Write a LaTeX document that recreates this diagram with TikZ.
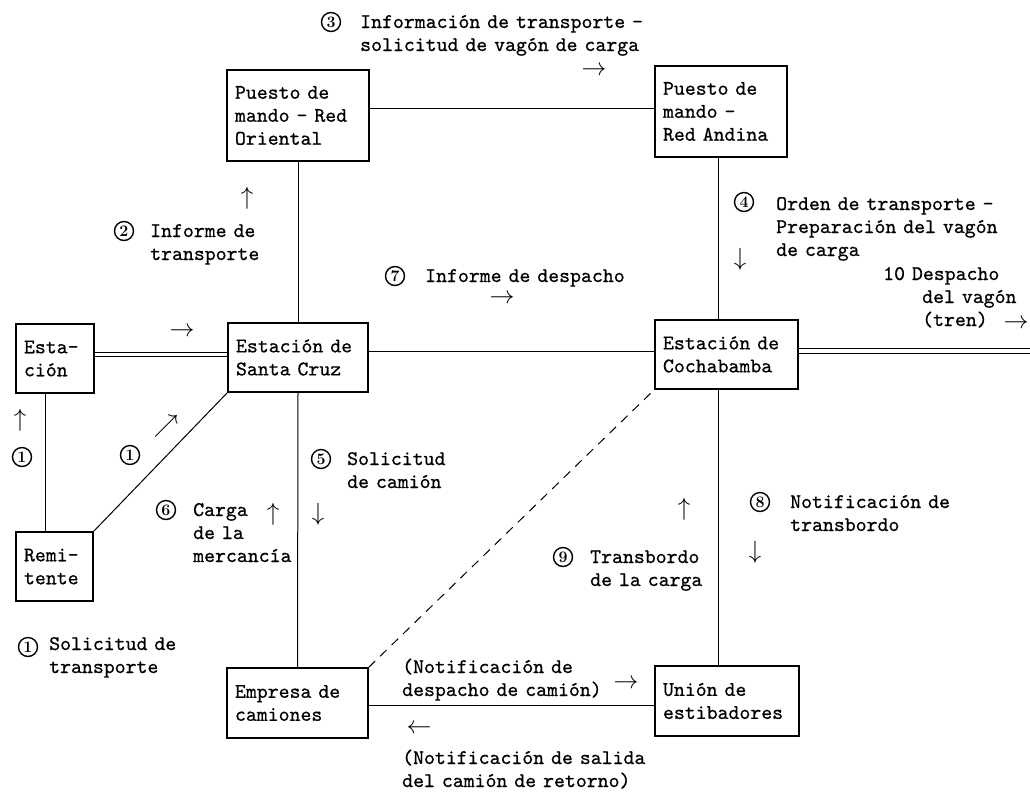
\documentclass[tikz,border=0pt]{standalone}
\usepackage{fontspec}
\newfontfamily\twfont{lmmono10-regular.otf}[FakeBold=0.6]
\newcommand{\tw}{\fontsize{20.8}{23}\selectfont\twfont}

\tikzset{
  box/.style={draw, line width=1.3pt, align=left, inner xsep=8pt, inner ysep=0pt, font=\tw},
  lbl/.style={anchor=base west, inner sep=0pt, align=left, text width=330pt, font=\tw},
  num/.style={circle, draw, line width=1.4pt, minimum size=19pt, inner sep=0pt, font=\fontsize{16}{16}\selectfont\bfseries},
  arr/.style={inner sep=0pt, font=\Huge},
  link/.style={line width=1pt},
  rail/.style={double, double distance=3.5pt, line width=0.8pt},
}

\begin{document}
\begin{tikzpicture}[x=1pt,y=-1pt]
\useasboundingbox (0,0) rectangle (1030,793);

% boxes
\node[box, text width=126pt, minimum height=91pt] (ori) at (298,115.5) {Puesto de\\mando - Red\\Oriental};
\node[box, text width=116pt, minimum height=91pt] (and) at (721,111.5) {Puesto de\\mando -\\Red Andina};
\node[box, text width=62pt, minimum height=69pt] (est) at (55,358.5) {Esta-\\ción};
\node[box, text width=124pt, minimum height=69pt] (scz) at (298,357.5) {Estación de\\Santa Cruz};
\node[box, text width=127pt, minimum height=69pt] (coc) at (726.5,354.5) {Estación de\\Cochabamba};
\node[box, text width=61pt, minimum height=69pt] (rem) at (54.5,566.5) {Remi-\\tente};
\node[box, text width=125pt, minimum height=70pt] (emp) at (297.5,703) {Empresa de\\camiones};
\node[box, text width=128pt, minimum height=70pt] (uni) at (727,701) {Unión de\\estibadores};
\coordinate (out) at (1030,351);

% connections
\draw[link] ([yshift=7.5pt]ori.east) -- ([yshift=7.5pt]ori.east -| and.west);
\draw[link] (ori.south) -- (scz.north);
\draw[link] ([xshift=-3pt]and.south) -- ([xshift=-3pt]and.south |- coc.north);
\draw[rail] ([yshift=4pt]est.east) -- ([yshift=4pt]est.east -| scz.west);
\draw[link] ([yshift=6pt]scz.east) -- ([yshift=6pt]scz.east -| coc.west);
\draw[rail] (coc.east |- out) -- (out);
\draw[link] ([xshift=-10pt]est.south) -- ([xshift=-10pt]est.south |- rem.north);
\draw[link] (rem.north east) -- (scz.south west);
\draw[link] (scz.south) -- (emp.north);
\draw[link] ([xshift=-3pt]and.south |- coc.south) -- ([xshift=-3pt]and.south |- uni.north);
\draw[link, dash pattern=on 9pt off 7pt] (emp.north east) -- (coc.south west);
\draw[link] ([yshift=-2pt]emp.east) -- ([yshift=-2pt]emp.east -| uni.west);

% numbers
\node[num] (n1a) at (22,457) {1};
\node[num] (n1b) at (130,455) {1};
\node[num] (n1c) at (28,647) {1};
\node[num] (n2) at (124,231) {2};
\node[num] (n3) at (331,22) {3};
\node[num] (n4) at (744,202) {4};
\node[num] (n5) at (321,459) {5};
\node[num] (n6) at (166,510) {6};
\node[num] (n7) at (395,276) {7};
\node[num] (n8) at (760,502) {8};
\node[num] (n9) at (563,557) {9};

% texts
\node[lbl] (t3) at (360,28) {Información de transporte -\\solicitud de vagón de carga};
\node[lbl] (t2) at (150,237) {Informe de\\transporte};
\node[lbl] (t7) at (425,282) {Informe de despacho};
\node[lbl] (t4) at (776,210) {Orden de transporte -\\Preparación del vagón\\de carga};
\node[lbl] (t10) at (883,280) {10 Despacho\\\hspace*{39pt}del vagón\\\hspace*{39pt}(tren)};
\node[lbl] (t5) at (347,465) {Solicitud\\de camión};
\node[lbl] (t6) at (193,516) {Carga\\de la\\mercancía};
\node[lbl] (t8) at (790,508) {Notificación de\\transbordo};
\node[lbl] (t9) at (590,563) {Transbordo\\de la carga};
\node[lbl] (t1) at (49,650) {Solicitud de\\transporte};
\node[lbl] (tdc) at (402,673) {(Notificación de\\despacho de camión)};
\node[lbl] (tsc) at (402,764) {(Notificación de salida\\del camión de retorno)};

% arrows
\node[arr] (a3) at (594,71) {$\rightarrow$};
\node[arr] (a2) at (247,198) {$\uparrow$};
\node[arr] (a7) at (502,299) {$\rightarrow$};
\node[arr] (a4) at (740,259) {$\downarrow$};
\node[arr] (a10) at (1016,324) {$\rightarrow$};
\node[arr] (a1) at (182,332) {$\rightarrow$};
\node[arr] (a1a) at (20,420) {$\uparrow$};
\node[arr] (a1b) at (166,426) {$\nearrow$};
\node[arr] (a6) at (273,514) {$\uparrow$};
\node[arr] (a5) at (318,514) {$\downarrow$};
\node[arr] (a9) at (684,509) {$\uparrow$};
\node[arr] (a8) at (755,552) {$\downarrow$};
\node[arr] (adc) at (626,684) {$\rightarrow$};
\node[arr] (asc) at (419,729) {$\leftarrow$};
\end{tikzpicture}
\end{document}
